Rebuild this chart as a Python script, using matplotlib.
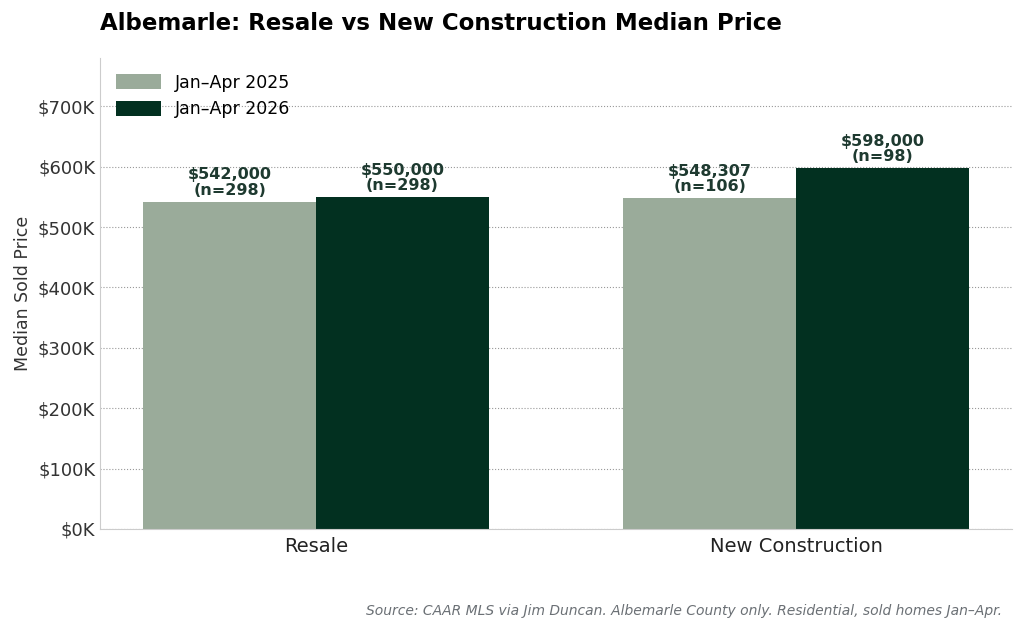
import numpy as np
import matplotlib
matplotlib.use("Agg")
import matplotlib.pyplot as plt
from matplotlib.ticker import FuncFormatter

categories = ["Resale", "New Construction"]
series_names = ["Jan–Apr 2025", "Jan–Apr 2026"]
prices_2025 = [542000, 548307]
prices_2026 = [550000, 598000]
counts_2025 = [298, 106]
counts_2026 = [298, 98]

colors = ["#9aab9a", "#023020"]
fig = plt.figure(figsize=(10.24, 6.33), dpi=100)
ax = fig.add_axes([100 / 1024, 1 - 529 / 633, 912 / 1024, 471 / 633])

x = np.arange(len(categories))
w = 0.36
for off, vals, ns, c, lab in [(-w / 2, prices_2025, counts_2025, colors[0], series_names[0]),
                              (w / 2, prices_2026, counts_2026, colors[1], series_names[1])]:
    ax.bar(x + off, vals, w, color=c, label=lab, zorder=2)
    for xi, v, n in zip(x + off, vals, ns):
        ax.text(xi, v + 6000, f"${v:,.0f}\n(n={n})", ha="center", va="bottom",
                fontsize=11.5, weight="bold", color="#1e3a30", linespacing=1.05)

ax.set_xlim(-0.45, 1.45)
ax.set_ylim(0, 780000)
ax.set_yticks(np.arange(0, 700001, 100000))
ax.yaxis.set_major_formatter(FuncFormatter(lambda v, p: f"${v/1000:.0f}K"))
ax.set_xticks(x)
ax.set_xticklabels(categories, fontsize=14, color="#222")
ax.tick_params(axis="y", labelsize=13, colors="#333", length=0)
ax.tick_params(axis="x", length=0, pad=6)
ax.set_ylabel("Median Sold Price", fontsize=12.5, color="#333")
ax.grid(axis="y", ls=":", color="#999", lw=0.8, zorder=0)
for s in ["top", "right"]:
    ax.spines[s].set_visible(False)
for s in ["left", "bottom"]:
    ax.spines[s].set_color("#ccc")
ax.legend(loc="upper left", frameon=False, fontsize=12.5, handlelength=2.6, handleheight=1.0)

fig.text(100 / 1024, 1 - 24 / 633, "Albemarle: Resale vs New Construction Median Price",
         fontsize=16.5, weight="bold", va="center", ha="left")
fig.text(1002 / 1024, 1 - 611 / 633,
         "Source: CAAR MLS via Jim Duncan. Albemarle County only. Residential, sold homes Jan–Apr.",
         fontsize=10, style="italic", color="#6b7075", ha="right", va="center")
fig.savefig("out.png", dpi=100)
